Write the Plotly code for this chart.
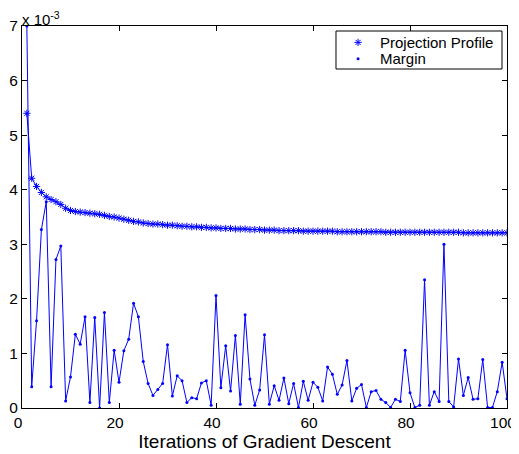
import plotly.graph_objects as go

iterations = list(range(1, 101))

projection_profile = [
    5.40, 4.21, 4.06, 3.95, 3.87, 3.82, 3.78, 3.73, 3.66, 3.62,
    3.60, 3.59, 3.58, 3.57, 3.56, 3.55, 3.53, 3.51, 3.50, 3.48,
    3.46, 3.44, 3.42, 3.41, 3.39, 3.38, 3.37, 3.37, 3.36, 3.35,
    3.35, 3.34, 3.33, 3.33, 3.32, 3.32, 3.31, 3.31, 3.30, 3.30,
    3.29, 3.29, 3.29, 3.28, 3.28, 3.28, 3.27, 3.27, 3.27, 3.26,
    3.26, 3.26, 3.25, 3.25, 3.25, 3.25, 3.25, 3.24, 3.24, 3.24,
    3.24, 3.24, 3.24, 3.24, 3.23, 3.23, 3.23, 3.23, 3.23, 3.23,
    3.23, 3.23, 3.23, 3.23, 3.22, 3.22, 3.22, 3.22, 3.22, 3.22,
    3.22, 3.22, 3.22, 3.22, 3.22, 3.22, 3.22, 3.22, 3.22, 3.22,
    3.21, 3.21, 3.21, 3.21, 3.21, 3.21, 3.21, 3.21, 3.21, 3.21,
]

margin = [
    7.00, 0.39, 1.60, 3.27, 3.78, 0.39, 2.72, 2.97, 0.13, 0.57,
    1.35, 1.17, 1.67, 0.10, 1.66, 0.00, 1.75, 0.10, 1.06, 0.47,
    1.05, 1.26, 1.92, 1.67, 0.85, 0.45, 0.23, 0.34, 0.45, 1.16,
    0.22, 0.59, 0.50, 0.10, 0.19, 0.17, 0.46, 0.50, 0.05, 2.06,
    0.37, 1.14, 0.31, 1.33, 0.07, 1.71, 0.53, 0.05, 0.33, 1.34,
    0.07, 0.41, 0.14, 0.55, 0.08, 0.45, 0.01, 0.49, 0.14, 0.47,
    0.38, 0.13, 0.75, 0.62, 0.25, 0.42, 0.87, 0.13, 0.36, 0.43,
    0.01, 0.30, 0.32, 0.16, 0.10, 0.01, 0.16, 0.12, 1.06, 0.28,
    0.01, 0.05, 2.35, 0.05, 0.30, 0.12, 3.00, 0.12, 0.02, 0.90,
    0.23, 0.56, 0.16, 0.17, 0.89, 0.01, 0.01, 0.30, 0.84, 0.17,
]

series_names = ["Projection Profile", "Margin"]
x_ticks = [0, 20, 40, 60, 80, 100]
y_ticks = [0, 1, 2, 3, 4, 5, 6, 7]
x_title = "Iterations of Gradient Descent"
exponent_label = "x 10<sup>-3</sup>"

BLUE = "#0000ff"
FONT = "Liberation Sans, Arial, Helvetica, sans-serif"
STAR = dict(symbol="asterisk", size=6, color=BLUE, line=dict(color=BLUE, width=1))
DOT = dict(symbol="circle", size=3, color=BLUE, line=dict(width=0))

fig = go.Figure()

# series: connecting lines + markers
fig.add_trace(go.Scatter(x=iterations, y=projection_profile, mode="lines+markers",
                         name=series_names[0], line=dict(color=BLUE, width=1),
                         marker=STAR, showlegend=False))
fig.add_trace(go.Scatter(x=iterations, y=margin, mode="lines+markers",
                         name=series_names[1], line=dict(color=BLUE, width=1),
                         marker=DOT, showlegend=False))

# compact legend drawn in its own small hidden subplot (layout-only key glyphs)
LEG_X = [0.6474, 0.9897]
LEG_Y = [0.8874, 0.9869]
key_x = 0.133
text_x = 0.255
row_y = [0.70, 0.27]
fig.add_trace(go.Scatter(x=[key_x], y=[row_y[0]], mode="markers", marker=STAR,
                         xaxis="x2", yaxis="y2", showlegend=False, hoverinfo="skip"))
fig.add_trace(go.Scatter(x=[key_x], y=[row_y[1]], mode="markers", marker=DOT,
                         xaxis="x2", yaxis="y2", showlegend=False, hoverinfo="skip"))

axis_common = dict(
    showline=True, linecolor="black", linewidth=1, mirror="allticks",
    ticks="inside", ticklen=5, tickwidth=1, tickcolor="black",
    showgrid=False, zeroline=False, automargin=False,
    tickfont=dict(family=FONT, size=15.5, color="black"),
)

annotations = [dict(text=exponent_label, xref="paper", yref="paper",
                    x=0, y=1, xanchor="left", yanchor="bottom",
                    showarrow=False, font=dict(family=FONT, size=15),
                    xshift=-2, yshift=-4)]
for name, ry in zip(series_names, row_y):
    annotations.append(dict(text=name, xref="x2", yref="y2", x=text_x, y=ry,
                            xanchor="left", yanchor="middle", showarrow=False,
                            font=dict(family=FONT, size=15, color="black")))

# page body has an 8px default margin, so the figure is sized to fit the window
fig.update_layout(
    width=511, height=446,
    margin=dict(l=14, r=12, t=18, b=46),
    paper_bgcolor="white", plot_bgcolor="white",
    font=dict(family=FONT, color="black"),
    showlegend=False,
    xaxis=dict(range=[0, 100], tickvals=x_ticks, ticklabeloverflow="allow",
               ticklabelshift=-4,
               title=dict(text=x_title, font=dict(family=FONT, size=19), standoff=0),
               **axis_common),
    yaxis=dict(range=[0, 7], tickvals=y_ticks, **axis_common),
    xaxis2=dict(domain=LEG_X, range=[0, 1], anchor="y2", visible=False,
                fixedrange=True),
    yaxis2=dict(domain=LEG_Y, range=[0, 1], anchor="x2", visible=False,
                fixedrange=True),
    shapes=[dict(type="rect", xref="x2 domain", yref="y2 domain",
                 x0=0, x1=1, y0=0, y1=1, line=dict(color="black", width=1),
                 fillcolor="rgba(0,0,0,0)", layer="above")],
    annotations=annotations,
)

fig.write_html("out.html")
